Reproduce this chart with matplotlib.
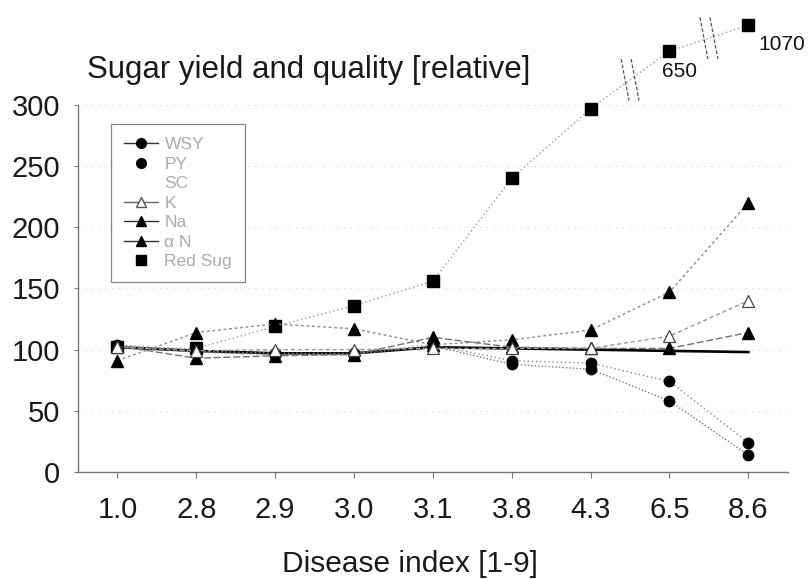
import numpy as np
import matplotlib
matplotlib.use('Agg')
import matplotlib.pyplot as plt
from matplotlib.lines import Line2D
from matplotlib.transforms import offset_copy

# ---------------- data ----------------
categories = ['1.0', '2.8', '2.9', '3.0', '3.1', '3.8', '4.3', '6.5', '8.6']
wsy = [103, 98, 96, 96, 103, 88, 84, 58, 14]
py = [104, 99, 97, 97, 104, 91, 89, 74, 24]
sc = [102, 99, 97, 97, 102, 101, 100, 99, 98]
k_vals = [102, 99, 100, 100, 101, 101, 101, 111, 140]
na = [91, 114, 121, 117, 104, 108, 116, 147, 220]
alpha_n = [103, 93, 95, 96, 110, 102, 101, 101, 114]
red_sug = [102, 101, 119, 136, 156, 240, 297, 650, 1070]
yticks = [0, 50, 100, 150, 200, 250, 300]
legend_labels = ['WSY', 'PY', 'SC', 'K', 'Na', 'α N', 'Red Sug']

plt.rcParams['font.family'] = ['Liberation Sans', 'DejaVu Sans']

AXIS_MAX = 300


def shown(v):
    """broken-axis position for values above the axis top"""
    return v if v <= AXIS_MAX else AXIS_MAX + 2.35 * np.sqrt(v - AXIS_MAX)


fig = plt.figure(figsize=(8.08, 5.79), dpi=100)
ax = fig.add_axes([0.0965, 0.1848, 0.8785, 0.634])
x = np.arange(len(categories))

# grid
for yv in yticks[1:]:
    ax.axhline(yv, color='#cfcfcf', lw=0.7, ls=(0, (1, 6)), zorder=0)

# series
ax.plot(x, [shown(v) for v in red_sug], color='#9a9a9a', lw=1.0,
        ls=(0, (1, 2)), marker='s', ms=8.5, mfc='black', mec='black',
        clip_on=False, zorder=3)
ax.plot(x, na, color='#8a8a8a', lw=1.0, ls=(0, (2, 2)), marker='^', ms=8,
        mfc='black', mec='black', zorder=3)
ax.plot(x, k_vals, color='#9a9a9a', lw=1.0, ls=(0, (3, 2)), marker='^', ms=8,
        mfc='white', mec='#444444', mew=0.9, zorder=4)
ax.plot(x, alpha_n, color='#707070', lw=1.0, ls=(0, (5, 2)), marker='^', ms=8,
        mfc='black', mec='black', zorder=3)
ax.plot(x, py, color='#8a8a8a', lw=1.0, ls=(0, (1, 2)), marker='o', ms=7.5,
        mfc='black', mec='black', zorder=3)
ax.plot(x, wsy, color='#7a7a7a', lw=1.0, ls=(0, (1, 1.5)), marker='o', ms=7.5,
        mfc='black', mec='black', zorder=3)
ax.plot(x, sc, color='black', lw=1.9, zorder=2)

# axis break marks on the red sugar line
for i in range(len(red_sug) - 1):
    if red_sug[i + 1] > AXIS_MAX:
        xm = i + 0.5
        ym = (shown(red_sug[i]) + shown(red_sug[i + 1])) / 2
        for dx in (-5, 5):
            tr = offset_copy(ax.transData, fig=fig, x=dx, y=0, units='dots')
            ax.plot([xm - 0.05, xm + 0.05], [ym + 17, ym - 17], transform=tr,
                    color='#555555', lw=0.9, ls=(0, (3, 1.5)), clip_on=False,
                    zorder=5)

# labels for broken values
offsets = {7: (7, -15), 8: (24, -14)}
for i, v in enumerate(red_sug):
    if v > AXIS_MAX:
        ax.annotate(str(v), (x[i], shown(v)), xytext=offsets[i],
                    textcoords='offset points', ha='center', va='center',
                    fontsize=15, color='#111111', annotation_clip=False)

ax.set_xlim(-0.5, len(categories) - 0.5)
ax.set_ylim(0, AXIS_MAX)
ax.set_xticks(x)
ax.set_xticklabels(categories)
ax.set_yticks(yticks)
ax.tick_params(axis='y', labelsize=21, length=3, pad=10, color='#777777',
               labelcolor='#1a1a1a')
ax.tick_params(axis='x', labelsize=21, length=4, pad=13, color='#777777',
               labelcolor='#1a1a1a')
for s in ['top', 'right']:
    ax.spines[s].set_visible(False)
for s in ['left', 'bottom']:
    ax.spines[s].set_color('#777777')
    ax.spines[s].set_linewidth(1.0)

fig.text(410 / 808, 1 - 572 / 579, 'Disease index [1-9]', fontsize=21.5,
         color='#1a1a1a', ha='center', va='baseline')
fig.text(87 / 808, 1 - 70 / 579, 'Sugar yield and quality [relative]',
         fontsize=22.5, color='#1a1a1a', ha='left', va='center')

# legend
handles = [
    Line2D([], [], color='#333333', lw=1.0, marker='o', ms=7, mfc='k', mec='k'),
    Line2D([], [], ls='none', marker='o', ms=7, mfc='k', mec='k'),
    Line2D([], [], color='none'),
    Line2D([], [], color='#666666', lw=1.0, marker='^', ms=7, mfc='white', mec='#555555'),
    Line2D([], [], color='#333333', lw=1.0, marker='^', ms=7, mfc='k', mec='k'),
    Line2D([], [], color='#333333', lw=1.0, marker='^', ms=7, mfc='k', mec='k'),
    Line2D([], [], ls='none', marker='s', ms=7, mfc='k', mec='k'),
]
leg = ax.legend(handles, legend_labels, loc='upper left',
                bbox_to_anchor=(0.046, 0.948), borderaxespad=0, fontsize=12.5,
                labelcolor='#aaaaaa', frameon=True, fancybox=False,
                edgecolor='#666666', handlelength=2.0, handletextpad=0.35,
                labelspacing=0.25, borderpad=0.75)
leg.get_frame().set_linewidth(0.9)
leg.get_frame().set_facecolor('white')

fig.savefig('out.png', dpi=100)
